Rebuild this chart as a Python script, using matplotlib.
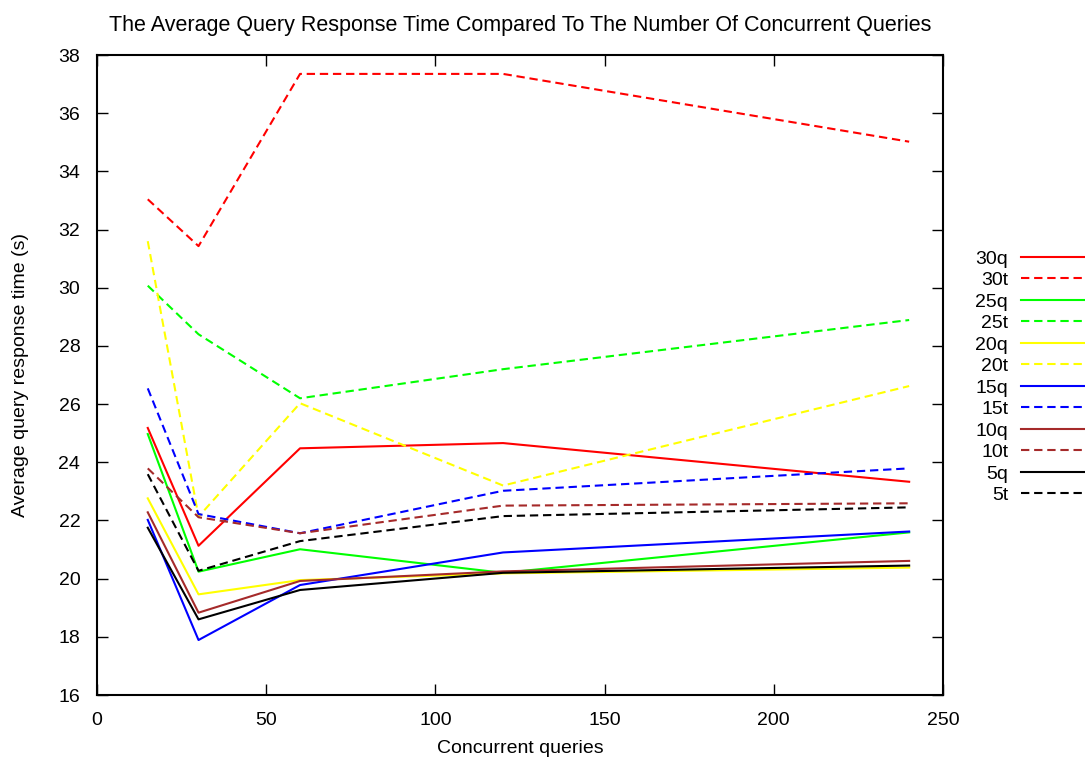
import matplotlib
matplotlib.use("Agg")
import matplotlib.pyplot as plt

plt.rcParams['font.family'] = ['Liberation Sans', 'DejaVu Sans']

concurrent = [15, 30, 60, 120, 240]

series_names = ["30q", "30t", "25q", "25t", "20q", "20t",
                "15q", "15t", "10q", "10t", "5q", "5t"]

q30 = [25.18, 21.13, 24.48, 24.66, 23.33]
t30 = [33.04, 31.43, 37.35, 37.35, 35.02]
q25 = [24.97, 20.24, 21.01, 20.20, 21.59]
t25 = [30.07, 28.40, 26.20, 27.20, 28.89]
q20 = [22.76, 19.46, 19.95, 20.18, 20.38]
t20 = [31.60, 22.13, 26.03, 23.20, 26.62]
q15 = [22.02, 17.89, 19.78, 20.90, 21.62]
t15 = [26.54, 22.22, 21.56, 23.02, 23.79]
q10 = [22.28, 18.83, 19.92, 20.25, 20.61]
t10 = [23.79, 22.11, 21.56, 22.51, 22.59]
q5 = [21.75, 18.60, 19.61, 20.20, 20.45]
t5 = [23.59, 20.27, 21.29, 22.15, 22.45]

values = [q30, t30, q25, t25, q20, t20, q15, t15, q10, t10, q5, t5]
colors = ["#ff0000", "#ff0000", "#00ff00", "#00ff00", "#ffff00", "#ffff00",
          "#0000ff", "#0000ff", "#a52a2a", "#a52a2a", "#000000", "#000000"]

FS = 14

fig = plt.figure(figsize=(10.85, 7.6), dpi=100)
ax = fig.add_axes([97 / 1085, 65 / 760, 846 / 1085, 640 / 760])

for name, ys, col in zip(series_names, values, colors):
    ls = (0, (4, 2.3)) if name.endswith("t") else "-"
    ax.plot(concurrent, ys, color=col, linestyle=ls, linewidth=1.5, label=name)

ax.set_xlim(0, 250)
ax.set_ylim(16, 38)
ax.set_xticks(range(0, 251, 50))
ax.set_yticks(range(16, 39, 2))
ax.tick_params(direction="in", length=8, width=1, top=True, right=True,
               labelsize=FS, pad=12)
for sp in ax.spines.values():
    sp.set_linewidth(1.5)

ax.set_xlabel("Concurrent queries", fontsize=FS, labelpad=8)
ax.set_ylabel("Average query response time (s)", fontsize=FS, labelpad=21)
ax.set_title("The Average Query Response Time Compared To The Number Of Concurrent Queries",
             fontsize=15.5, pad=17)

fig.legend(loc="upper right", bbox_to_anchor=(1.0, 1 - 250 / 760),
           frameon=False, markerfirst=False, fontsize=FS, handlelength=3.3,
           labelspacing=0.2, handletextpad=0.65, borderaxespad=0.0,
           borderpad=0.0)

fig.savefig("out.png", dpi=100)
